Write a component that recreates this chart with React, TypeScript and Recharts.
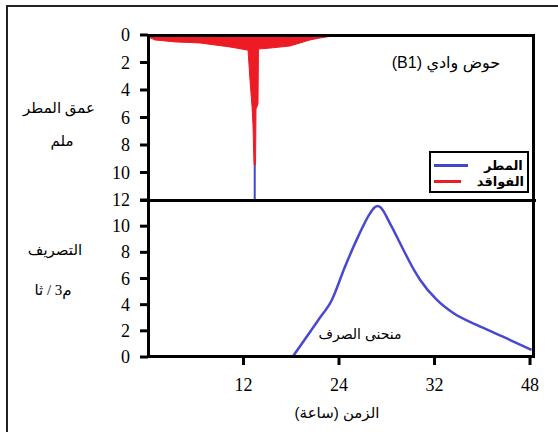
import React from "react";
import {
  ComposedChart,
  Area,
  Line,
  XAxis,
  YAxis,
  Legend,
} from "recharts";

// hyetograph (top panel), depth in mm, axis drawn downwards
const lossHours = [0, 0.25, 0.88, 3.39, 6.53, 10.3, 12.57, 12.82, 13.07, 13.19, 13.32, 13.51, 13.57, 13.82, 13.88, 15.33, 17.84, 19.1, 20.35, 21.6, 23.25, 23.6];
const losses = [0, 0.2, 0.36, 0.5, 0.58, 0.87, 1.1, 3.3, 5.2, 6.5, 9.45, 9.45, 5.4, 5.0, 1.02, 0.95, 0.8, 0.58, 0.36, 0.22, 0.07, 0];
const rainHours = [13.41, 13.41];
const rainDepth = [9.45, 12];

// hydrograph (bottom panel), m3/s
const flowHours = [18.15, 21.4, 23.1, 24.75, 26.4, 27.9, 28.5, 28.85, 29.2, 30.4, 32.1, 33.55, 34.2, 36.3, 38.4, 41.3, 44.6, 48.2];
const flow = [0, 2.83, 4.36, 6.9, 9.2, 10.98, 11.44, 11.54, 11.44, 10.22, 8.18, 6.52, 5.89, 4.36, 3.34, 2.45, 1.55, 0.54];

const depthTicks = [0, 2, 4, 6, 8, 10, 12];
const flowTicks = [0, 2, 4, 6, 8, 10];
const timeTicks = [12, 24, 36, 48];
const timeTickLabels = ["12", "24", "32", "48"];
const legendOrder = ["المطر", "الفواقد"];

const lossData = lossHours.map((t, i) => ({ t, loss: losses[i] }));
const rainData = rainHours.map((t, i) => ({ t, depth: rainDepth[i] }));
const flowData = flowHours.map((t, i) => ({ t, q: flow[i] }));

const serifAr = "Liberation Serif, DejaVu Sans, serif";
const sansAr = "Liberation Sans, DejaVu Sans, sans-serif";

function YTick({ x, y, payload }: any) {
  return (
    <text x={x} y={y} dy={6} textAnchor="end" fontFamily="Liberation Serif" fontSize={18} fill="#000">
      {payload.value}
    </text>
  );
}

function XTick({ x, y, payload }: any) {
  return (
    <text x={x} y={y} dy={14} textAnchor="middle" fontFamily="Liberation Serif" fontSize={18} fill="#000">
      {timeTickLabels[timeTicks.indexOf(payload.value)]}
    </text>
  );
}

function Note({ x, y, size, font, children }: any) {
  return (
    <div
      dir="rtl"
      style={{
        position: "absolute",
        left: x,
        top: y,
        transform: "translate(-50%, -50%)",
        fontFamily: font,
        fontSize: size,
        whiteSpace: "nowrap",
        color: "#000",
      }}
    >
      {children}
    </div>
  );
}

function LegendBox({ payload }: any) {
  const items = [...(payload || [])].sort(
    (a: any, b: any) => legendOrder.indexOf(a.value) - legendOrder.indexOf(b.value)
  );
  return (
    <div style={{ width: 100, height: 42, boxSizing: "border-box", border: "2px solid #000", background: "#fff", padding: "4px 3px" }}>
      {items.map((p: any) => (
        <div key={p.value} style={{ display: "flex", alignItems: "center", height: 16 }}>
          <span style={{ display: "inline-block", width: 34, height: 3, background: p.color }} />
          <span style={{ marginLeft: 16, fontFamily: sansAr, fontSize: 13, fontWeight: "bold" }}>{p.value}</span>
        </div>
      ))}
    </div>
  );
}

export default function App() {
  return (
    <div style={{ position: "absolute", left: 0, top: 0, width: 558, height: 432, overflow: "hidden", background: "#fff" }}>
      {/* outer frame */}
      <div style={{ position: "absolute", left: 6, top: 5, width: 560, height: 440, borderTop: "2px solid #222", borderLeft: "2px solid #222" }} />

      <div style={{ position: "absolute", left: 0, top: 0 }}>
        <ComposedChart width={558} height={432} data={lossData} margin={{ top: 35, right: 24, left: 88, bottom: 232 }}>
          <XAxis dataKey="t" type="number" domain={[0, 48.5]} orientation="top" height={0} tick={false} tickLine={false} axisLine={false} />
          <YAxis
            reversed
            type="number"
            domain={[0, 12]}
            ticks={depthTicks}
            width={60}
            axisLine={false}
            tickSize={8}
            tickMargin={10}
            tickLine={{ stroke: "#000", strokeWidth: 3 }}
            tick={<YTick />}
            interval={0}
          />
          <Line data={rainData} dataKey="depth" name="المطر" stroke="#3f48cc" strokeWidth={2} dot={false} isAnimationActive={false} legendType="line" />
          <Area dataKey="loss" name="الفواقد" type="linear" stroke="#ed1c24" strokeWidth={1} fill="#ed1c24" fillOpacity={1} isAnimationActive={false} legendType="line" />
          <Legend layout="vertical" align="center" verticalAlign="middle" content={<LegendBox />} wrapperStyle={{ left: 429, top: 151, width: 100 }} />
        </ComposedChart>
      </div>

      <div style={{ position: "absolute", left: 0, top: 0 }}>
        <ComposedChart width={558} height={432} data={flowData} margin={{ top: 200, right: 24, left: 88, bottom: 45 }}>
          <XAxis
            dataKey="t"
            type="number"
            domain={[0, 48.5]}
            ticks={timeTicks}
            height={30}
            axisLine={false}
            tickSize={8}
            tickMargin={12}
            tickLine={{ stroke: "#000", strokeWidth: 3 }}
            tick={<XTick />}
            interval={0}
          />
          <YAxis
            type="number"
            domain={[0, 12]}
            ticks={flowTicks}
            width={60}
            axisLine={false}
            tickSize={8}
            tickMargin={10}
            tickLine={{ stroke: "#000", strokeWidth: 3 }}
            tick={<YTick />}
            interval={0}
          />
          <Line dataKey="q" type="monotone" stroke="#4848d0" strokeWidth={2.5} dot={false} isAnimationActive={false} />
        </ComposedChart>
      </div>

      {/* plot frames */}
      <div style={{ position: "absolute", left: 147, top: 34, width: 388, height: 324, boxSizing: "border-box", border: "3px solid #000" }} />
      <div style={{ position: "absolute", left: 140, top: 199, width: 396, height: 3, background: "#000" }} />

      <Note x={446} y={62} size={16} font={sansAr}>حوض وادي (B1)</Note>
      <Note x={59} y={108} size={15} font={serifAr}>عمق المطر</Note>
      <Note x={62} y={141} size={15} font={serifAr}>ملم</Note>
      <Note x={55} y={250} size={15} font={serifAr}>التصريف</Note>
      <Note x={53} y={290} size={15} font={serifAr}>م3 / ثا</Note>
      <Note x={360} y={334} size={14} font={sansAr}>منحنى الصرف</Note>
      <Note x={337} y={413} size={15} font={sansAr}>الزمن (ساعة)</Note>
    </div>
  );
}
